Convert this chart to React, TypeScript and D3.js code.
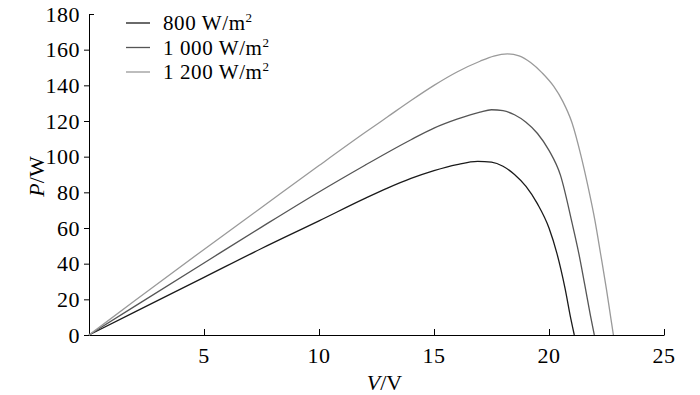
import { useEffect, useRef } from "react";
import * as d3 from "d3";

// P-V curves, [V, P]
const series800: [number, number][] = [
  [0, 0], [2, 13], [5, 32.3], [7.5, 48.5], [10, 64], [12, 76.6], [13, 82.5], [14, 87.8],
  [15, 92.2], [16, 95.6], [16.9, 97.4], [17.5, 96.9], [18, 94.6], [18.5, 90], [19, 83.3],
  [19.5, 73.5], [20, 60], [20.35, 45.5], [20.7, 26], [20.95, 9], [21.1, 0],
];
const series1000: [number, number][] = [
  [0, 0], [2, 16.2], [5, 40.4], [7.5, 60.5], [10, 80.2], [12, 95.2], [13, 102.5],
  [14, 109.5], [15, 116], [16, 121], [17, 125], [17.5, 126.3], [18, 125.8], [18.5, 123.5],
  [19, 119.3], [19.5, 113], [20, 103.5], [20.5, 89.5], [21, 63], [21.3, 45.5],
  [21.55, 28.5], [21.8, 11], [21.97, 0],
];
const series1200: [number, number][] = [
  [0, 0], [2, 19.4], [5, 48], [7.5, 71.5], [10, 95], [12, 113.5], [13, 122.5], [14, 131.5],
  [15, 140], [16, 147.5], [17, 153.5], [17.6, 156.4], [18.2, 157.6], [18.7, 156.5],
  [19.2, 152.8], [19.7, 147], [20.2, 139.5], [20.6, 131], [21, 119], [21.4, 100],
  [21.7, 83], [22, 64], [22.25, 45], [22.5, 25.5], [22.67, 11], [22.8, 0],
];

const seriesNames = ["800 W/m", "1 000 W/m", "1 200 W/m"];
const seriesColors = ["#1a1a1a", "#555555", "#9a9a9a"];
const xTicks = [5, 10, 15, 20, 25];
const yTicks = [0, 20, 40, 60, 80, 100, 120, 140, 160, 180];

const App = () => {
  const svgRef = useRef<SVGSVGElement>(null);

  useEffect(() => {
    const width = 700;
    const height = 395;
    const margin = { top: 14, right: 36, bottom: 60, left: 89 };
    const font = "'Liberation Serif', 'Times New Roman', serif";

    const root = d3.select(svgRef.current);
    root.selectAll("*").remove();
    root.attr("width", width).attr("height", height);

    const x = d3.scaleLinear().domain([0, 25]).range([margin.left, width - margin.right]);
    const y = d3.scaleLinear().domain([0, 180]).range([height - margin.bottom, margin.top]);

    // x axis, ticks pointing inward
    const xAxis = root
      .append("g")
      .attr("transform", `translate(0,${y(0)})`)
      .call(d3.axisTop(x).tickValues(xTicks).tickSizeInner(6).tickSizeOuter(0));
    xAxis.select(".domain").attr("stroke", "#000");
    xAxis.selectAll(".tick text").remove();
    root
      .append("g")
      .selectAll("text")
      .data(xTicks)
      .enter()
      .append("text")
      .attr("x", (d) => x(d))
      .attr("y", y(0) + 28)
      .attr("text-anchor", "middle")
      .attr("font-family", font)
      .attr("font-size", 22)
      .attr("letter-spacing", 0.5)
      .text((d) => d);

    // y axis, outward ticks
    const yAxis = root
      .append("g")
      .attr("transform", `translate(${x(0)},0)`)
      .call(d3.axisLeft(y).tickValues(yTicks).tickSizeInner(5).tickSizeOuter(0).tickPadding(4));
    yAxis.select(".domain").attr("stroke", "#000");
    yAxis
      .selectAll(".tick text")
      .attr("font-family", font)
      .attr("font-size", 22)
      .attr("letter-spacing", 0.5)
      .attr("fill", "#000");
    yAxis
      .selectAll<SVGLineElement, number>(".tick line")
      .filter((d) => d === 180)
      .attr("x2", 5);

    // axis titles
    const yTitle = root
      .append("text")
      .attr("transform", `translate(44,${(y(0) + y(180)) / 2 + 2}) rotate(-90)`)
      .attr("text-anchor", "middle")
      .attr("font-family", font)
      .attr("font-size", 22);
    yTitle.append("tspan").attr("font-style", "italic").text("P");
    yTitle.append("tspan").text("/W");

    const xTitle = root
      .append("text")
      .attr("x", (x(0) + x(25)) / 2 + 8)
      .attr("y", 390)
      .attr("text-anchor", "middle")
      .attr("font-family", font)
      .attr("font-size", 22);
    xTitle.append("tspan").attr("font-style", "italic").text("V");
    xTitle.append("tspan").text("/V");

    // curves
    const line = d3
      .line<[number, number]>()
      .x((d) => x(d[0]))
      .y((d) => y(d[1]))
      .curve(d3.curveMonotoneX);

    [series800, series1000, series1200].forEach((s, i) => {
      root
        .append("path")
        .datum(s)
        .attr("fill", "none")
        .attr("stroke", seriesColors[i])
        .attr("stroke-width", 1.3)
        .attr("d", line);
    });

    // legend
    const legend = root.append("g").attr("transform", "translate(126,23)");
    seriesNames.forEach((name, i) => {
      const row = legend.append("g").attr("transform", `translate(0,${i * 24.5})`);
      row
        .append("line")
        .attr("x1", 0)
        .attr("x2", 24)
        .attr("y1", 0)
        .attr("y2", 0)
        .attr("stroke", seriesColors[i])
        .attr("stroke-width", 1.3);
      const t = row
        .append("text")
        .attr("x", 37)
        .attr("y", 7)
        .attr("font-family", font)
        .attr("font-size", 21)
        .attr("letter-spacing", 0.6);
      t.append("tspan").text(name);
      t.append("tspan").attr("font-size", 13).attr("dy", -8).text("2");
    });
  }, []);

  return <svg ref={svgRef} style={{ position: "absolute", left: 0, top: 0 }}></svg>;
};

export default App;
